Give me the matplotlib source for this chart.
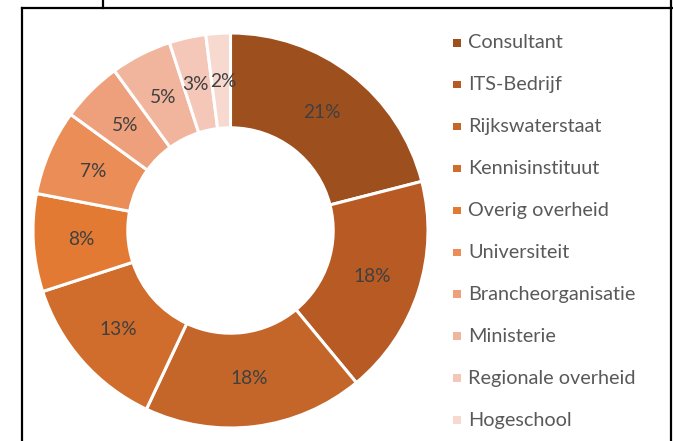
import matplotlib
matplotlib.use("Agg")
import matplotlib.pyplot as plt
from matplotlib.patches import Rectangle
from matplotlib.lines import Line2D

categories = ["Consultant", "ITS-Bedrijf", "Rijkswaterstaat", "Kennisinstituut",
              "Overig overheid", "Universiteit", "Brancheorganisatie", "Ministerie",
              "Regionale overheid", "Hogeschool"]
values = [21, 18, 18, 13, 8, 7, 5, 5, 3, 2]
colors = ["#9E4F1E", "#B75A23", "#C4662A", "#D06C2C", "#E27A34",
          "#EA8D56", "#EEA07C", "#F1B49C", "#F4C7B8", "#F7D9D0"]

W, H = 673, 441
fig = plt.figure(figsize=(W / 100, H / 100), dpi=100)
plt.rcParams['font.family'] = ['Lato', 'DejaVu Sans']

cx, cy, r = 230.5, 230.5, 197.5
ax = fig.add_axes([(cx - r) / W, (H - cy - r) / H, 2 * r / W, 2 * r / H])
wedges, texts, autotexts = ax.pie(
    values, colors=colors, startangle=90, counterclock=False, radius=1.0,
    autopct=lambda p: f"{p:.0f}%", pctdistance=0.755,
    wedgeprops=dict(width=0.48, edgecolor="white", linewidth=2.2),
    textprops=dict(color="#404040", fontsize=13.8))
ax.set_xlim(-1, 1)
ax.set_ylim(-1, 1)
ax.set_aspect("equal")
ax.axis("off")

# small nudge so the two smallest labels do not collide
x3, y3 = autotexts[-2].get_position()
autotexts[-2].set_position((x3 - 0.015, y3))
x2, y2 = autotexts[-1].get_position()
autotexts[-1].set_position((x2 + 0.012, y2))

# legend
y0, dy = 43, 41.9
for i, (lab, col) in enumerate(zip(categories, colors)):
    yc = y0 + i * dy
    fig.patches.append(Rectangle(((453) / W, (H - yc - 3.5) / H), 7.5 / W, 7.5 / H,
                                 transform=fig.transFigure, facecolor=col,
                                 edgecolor="none"))
    fig.text(468 / W, (H - yc) / H, lab, fontsize=14.3, color="#595959",
             va="center", ha="left")

# frame lines
def fl(x1, y1, x2, y2):
    fig.add_artist(Line2D([x1 / W, x2 / W], [(H - y1) / H, (H - y2) / H],
                          transform=fig.transFigure, color="black", linewidth=1.6))

fl(22, 7.5, 673, 7.5)
fl(22, 7.5, 22, 441)
fl(671, 0, 671, 441)
fl(103, 0, 103, 7.5)

fig.savefig("out.png", dpi=100)
